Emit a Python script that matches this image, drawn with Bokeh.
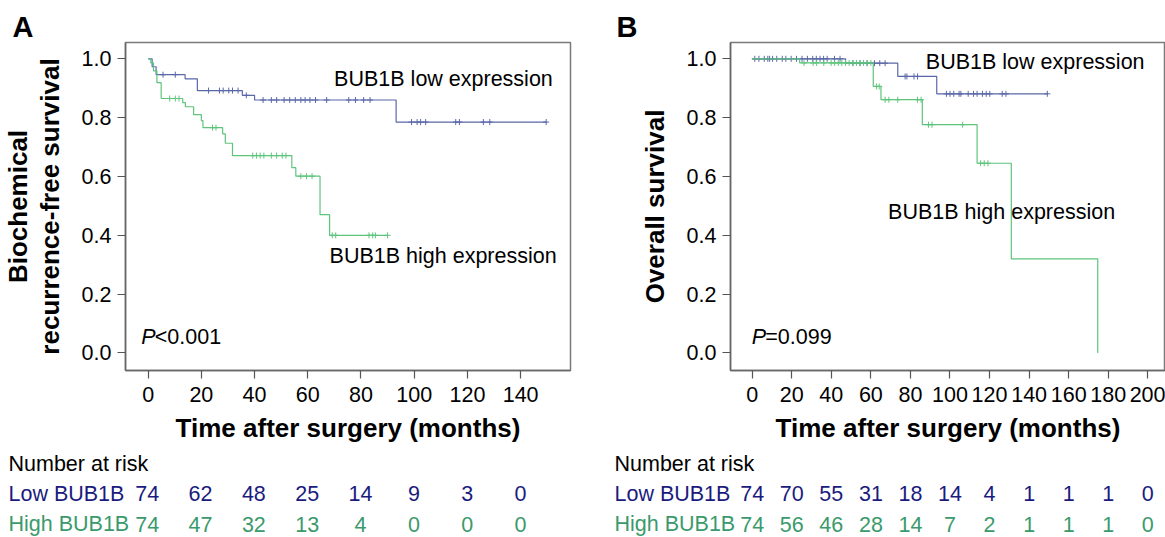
from bokeh.plotting import figure
from bokeh.models import Range1d, FixedTicker, PrintfTickFormatter, Label
from bokeh.layouts import row, column
from bokeh.core.properties import value
from bokeh.embed import file_html
from bokeh.resources import INLINE
import numpy as np

# ---------------- data ----------------
# Panel A: biochemical recurrence-free survival
a_low_t = [0, 1.5, 3.0, 13.9, 18.5, 35.4, 40.0, 93.2]
a_low_s = [1.0, 0.973, 0.946, 0.932, 0.892, 0.876, 0.860, 0.785]
a_low_end = 149.6
a_low_cens = [5.6, 10.2, 22.7, 26.8, 28.2, 30.3, 31.7, 33.8, 36.9, 43.2, 46.3, 48.3,
              51.1, 53.2, 55.3, 57.4, 59.0, 60.8, 62.9, 67.1, 75.4, 77.9, 81.0, 83.4,
              99.0, 101.1, 102.4, 104.3, 115.6, 117.0, 126.0, 128.4, 149.6]

a_high_t = [0, 1.0, 2.0, 3.3, 4.9, 13.0, 14.0, 17.1, 20.0, 20.6, 28.0, 29.0, 31.7,
            54.0, 55.5, 64.6, 68.2]
a_high_s = [1.0, 0.986, 0.959, 0.919, 0.865, 0.851, 0.837, 0.810, 0.790, 0.766, 0.745,
            0.713, 0.671, 0.630, 0.601, 0.470, 0.400]
a_high_end = 90.0
a_high_cens = [8.1, 10.2, 11.6, 24.2, 25.5, 39.3, 40.7, 42.1, 43.5, 46.3, 48.3, 50.4,
               51.8, 57.4, 59.5, 61.6, 69.2, 70.5, 83.0, 84.4, 85.4, 90.0]

a_risk_times = [0, 20, 40, 60, 80, 100, 120, 140]
a_risk_low = [74, 62, 48, 25, 14, 9, 3, 0]
a_risk_high = [74, 47, 32, 13, 4, 0, 0, 0]
a_xticks = [0, 20, 40, 60, 80, 100, 120, 140]

# Panel B: overall survival
b_low_t = [0, 47.2, 73.6, 93.3]
b_low_s = [1.0, 0.985, 0.940, 0.881]
b_low_end = 149.2
b_low_cens = [1.3, 3.4, 6.1, 7.9, 8.8, 10.3, 12.4, 15.2, 17.0, 19.7, 22.4, 25.2, 27.9,
              30.6, 32.4, 34.3, 36.1, 37.9, 41.6, 44.4, 50.9, 54.5, 58.1, 61.8, 64.5,
              67.2, 77.3, 78.2, 81.8, 83.6, 98.2, 100.0, 101.9, 104.6, 105.5, 109.2,
              111.9, 113.7, 116.4, 118.3, 120.1, 126.4, 128.3, 149.2]

b_high_t = [0, 24.0, 61.2, 65.1, 86.0, 113.7, 131.0, 174.7]
b_high_s = [1.0, 0.986, 0.906, 0.861, 0.776, 0.645, 0.320, 0.0]
b_high_end = 174.7
b_high_cens = [26.2, 30.8, 32.6, 36.2, 39.9, 41.7, 43.5, 45.3, 47.2, 49.0, 50.9, 52.7,
               54.5, 56.3, 58.1, 60.0, 62.9, 64.2, 67.2, 69.1, 73.6, 83.6, 85.4, 89.1,
               90.9, 106.4, 115.5, 117.3, 119.2]

b_risk_times = [0, 20, 40, 60, 80, 100, 120, 140, 160, 180, 200]
b_risk_low = [74, 70, 55, 31, 18, 14, 4, 1, 1, 1, 0]
b_risk_high = [74, 56, 46, 28, 14, 7, 2, 1, 1, 1, 0]
b_xticks = [0, 20, 40, 60, 80, 100, 120, 140, 160, 180, 200]

y_ticks = [0.0, 0.2, 0.4, 0.6, 0.8, 1.0]
risk_rows = ["Number at risk", "Low BUB1B", "High BUB1B"]

# ---------------- style ----------------
FONT = "Liberation Sans"
FS = "21.5px"
LOW_LINE = "#5a67a8"
HIGH_LINE = "#5ec47c"
LOW_TXT = "#1b1b7e"
HIGH_TXT = "#3b9a6c"
Y_RANGE = (-0.0595, 1.0554)


def km_curve(p, t, s, end, cens, color):
    xs = list(t) + [end]
    ys = list(s) + [s[-1]]
    p.step(xs, ys, mode="after", line_color=color, line_width=1.2)
    ta = np.array(t)
    sa = np.array(s)
    cy = sa[np.searchsorted(ta, np.array(cens), side="right") - 1]
    p.scatter(cens, cy, marker="cross", size=6, line_color=color, line_width=1)


def make_panel(width, bl, br, xr, xticks, ylabel, letter, letter_off, curves, texts, ptext):
    p = figure(width=width, height=445, output_backend="svg", toolbar_location=None,
               x_range=Range1d(*xr), y_range=Range1d(*Y_RANGE),
               min_border_left=bl, min_border_right=br,
               min_border_top=42, min_border_bottom=75)
    p.background_fill_color = "white"
    p.border_fill_color = "white"
    p.grid.visible = False
    p.outline_line_color = "#7a7a7a"
    p.outline_line_width = 1.5

    p.title.text = letter
    p.title.align = "left"
    p.title.offset = letter_off
    p.title.text_font = FONT
    p.title.text_font_size = "29px"
    p.title.text_font_style = "bold"
    p.title.text_color = "black"
    p.title.vertical_align = "bottom"
    p.title.standoff = 0

    for ax in (p.xaxis[0], p.yaxis[0]):
        ax.axis_line_color = "#666666"
        ax.axis_line_width = 1.5
        ax.major_tick_out = 8
        ax.major_tick_in = 0
        ax.major_tick_line_color = "#555555"
        ax.major_tick_line_width = 1.2
        ax.minor_tick_line_color = None
        ax.major_label_text_font = FONT
        ax.major_label_text_font_size = FS
        ax.major_label_text_color = "black"
        ax.axis_label_text_font = FONT
        ax.axis_label_text_font_size = "26px"
        ax.axis_label_text_font_style = "bold"
        ax.axis_label_text_color = "black"

    p.xaxis.ticker = FixedTicker(ticks=xticks)
    p.yaxis.ticker = FixedTicker(ticks=y_ticks)
    p.yaxis.formatter = PrintfTickFormatter(format="%.1f")
    p.xaxis.axis_label = "Time after surgery (months)"
    p.yaxis.axis_label = ylabel
    p.yaxis.axis_label_text_line_height = 1.05
    p.xaxis.major_label_standoff = 8
    p.xaxis.axis_label_standoff = 8
    p.yaxis.major_label_standoff = 6
    p.yaxis.axis_label_standoff = 14

    for c in curves:
        km_curve(p, *c)

    for (tx, x, y) in texts:
        p.add_layout(Label(x=x, y=y, text=tx, text_font=FONT, text_font_size=FS,
                           text_color="black", text_baseline="middle", text_align="left"))
    px, py, rest = ptext
    p.add_layout(Label(x=px, y=py, text="P", text_font=FONT, text_font_size=FS,
                       text_font_style="italic", text_color="black", text_baseline="middle"))
    p.add_layout(Label(x=px, y=py, x_offset=13.5, text=rest, text_font=FONT, text_font_size=FS,
                       text_color="black", text_baseline="middle"))
    return p


def make_table(width, xr, row_x, risk_times, risk_low, risk_high):
    t = figure(width=width, height=92, output_backend="svg", toolbar_location=None,
               x_range=Range1d(*xr), y_range=Range1d(2.446, -0.595),
               min_border_left=0, min_border_right=0, min_border_top=0, min_border_bottom=0,
               x_axis_location=None, y_axis_location=None)
    t.grid.visible = False
    t.outline_line_color = None
    t.background_fill_color = "white"
    t.border_fill_color = "white"
    cols = ["black", LOW_TXT, HIGH_TXT]
    for i, name in enumerate(risk_rows):
        t.add_layout(Label(x=row_x, y=i, x_units="screen", text=name, text_font=FONT,
                           text_font_size=FS, text_color=cols[i], text_baseline="middle"))
    for i, vals in ((1, risk_low), (2, risk_high)):
        t.text(x=risk_times, y=[i] * len(risk_times), text=[str(v) for v in vals],
               text_font=value(FONT), text_font_size=value(FS), text_color=cols[i],
               text_align="center", text_baseline="middle")
    return t


pa = make_panel(608, 124, 38, (-8.51, 158.74), a_xticks, "Biochemical\nrecurrence-free survival",
                "A", -113,
                [(a_low_t, a_low_s, a_low_end, a_low_cens, LOW_LINE),
                 (a_high_t, a_high_s, a_high_end, a_high_cens, HIGH_LINE)],
                [("BUB1B low expression", 69.9, 0.93), ("BUB1B high expression", 68.2, 0.328)],
                (-2.6, 0.054, "<0.001"))

pb = make_panel(557, 122, 0, (-10.97, 208.95), b_xticks, "Overall survival",
                "B", -114,
                [(b_low_t, b_low_s, b_low_end, b_low_cens, LOW_LINE),
                 (b_high_t, b_high_s, b_high_end, b_high_cens, HIGH_LINE)],
                [("BUB1B low expression", 87.8, 0.988), ("BUB1B high expression", 68.7, 0.479)],
                (-0.2, 0.054, "=0.099"))

ta = make_table(608, (-55.01, 172.99), 8, a_risk_times, a_risk_low, a_risk_high)
tb = make_table(557, (-72.65, 208.95), 6, b_risk_times, b_risk_low, b_risk_high)

layout = column(row(pa, pb), row(ta, tb))
open("out.html", "w").write(file_html(layout, INLINE))
